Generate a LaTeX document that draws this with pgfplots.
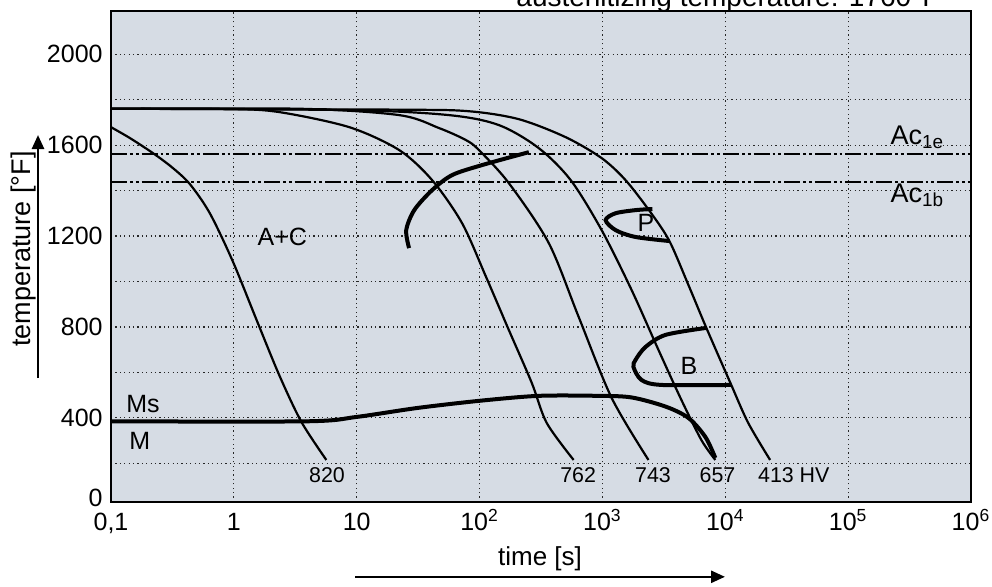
\documentclass[border=0pt]{standalone}
\usepackage{pgfplots}
\pgfplotsset{compat=1.18}
\usepackage{fontspec}
\setmainfont{Liberation Sans}
\usetikzlibrary{arrows.meta}
\definecolor{bgfill}{HTML}{D6DCE4}

\begin{document}
\begin{tikzpicture}[x=1pt,y=1pt]
\useasboundingbox (0,0) rectangle (496,293);
\begin{axis}[
    at={(55.5pt,42pt)}, anchor=south west,
    width=430pt, height=245.5pt, scale only axis,
    xmode=log, log basis x=10,
    xmin=0.1, xmax=1e6,
    ymin=30, ymax=2190,
    xtick={0.1,1,10,100,1000,10000,100000,1000000},
    xticklabels={{0,1},1,10,10\textsuperscript{2},10\textsuperscript{3},10\textsuperscript{4},10\textsuperscript{5},10\textsuperscript{6}},
    ytick={400,800,1200,1600,2000},
    yticklabels={400,800,1200,1600,2000},
    extra y ticks={48},
    extra y tick labels={0},
    extra y tick style={grid=none},
    minor ytick={200,600,1000,1400,1800},
    xmajorgrids, ymajorgrids, yminorgrids,
    grid style={black!85, line width=0.6pt, dash pattern=on 0.6pt off 1.6pt},
    minor grid style={black!85, line width=0.6pt, dash pattern=on 0.6pt off 1.6pt},
    major tick length=0pt, minor tick length=0pt,
    axis background/.style={fill=bgfill},
    axis line style={line width=1pt},
    tick label style={font=\fontsize{12.5}{14}\selectfont},
    xticklabel style={anchor=base, inner sep=0pt, yshift=-14pt},
    yticklabel style={inner sep=0pt, xshift=-4pt},
    every axis plot/.append style={black, line width=1.1pt},
]
% Ac lines
\addplot[line width=1.2pt, dash pattern=on 8pt off 1.5pt on 1.4pt off 1.5pt on 1.4pt off 1.5pt] coordinates {(0.1,1562) (1e6,1562)};
\addplot[line width=1.2pt, dash pattern=on 8pt off 1.5pt on 1.4pt off 1.5pt on 1.4pt off 1.5pt] coordinates {(0.1,1437) (1e6,1437)};
% cooling curves
\addplot[smooth] coordinates {(0.1,1679) (0.1426,1631) (0.2193,1565) (0.3126,1503) (0.4378,1429) (0.6364,1301) (0.9779,1090) (1.531,831) (2.355,585) (3.551,382) (5.66,215)};
\addplot[smooth] coordinates {(0.1,1760) (0.925,1759) (2.36,1745) (8.7,1679) (22.2,1578) (41.1,1446) (72,1257) (113,1020) (173,787) (266,554) (352,378) (583,215)};
\addplot[smooth] coordinates {(0.1,1760) (3.42,1760) (22.2,1732) (46.8,1675) (77.6,1622) (98.9,1578) (173,1433) (366,1169) (641,844) (1189,488) (2371,215)};
\addplot[smooth] coordinates {(0.1,1760) (8.71,1754) (56.5,1732) (144,1688) (303,1587) (552,1446) (986,1226) (1727,963) (2860,699) (4395,479) (6385,303) (8300,215)};
\addplot[smooth] coordinates {(0.1,1760) (22.2,1756) (82,1749) (209,1714) (502,1635) (985,1543) (1543,1446) (2460,1305) (3510,1178) (5010,985) (7015,796) (11190,545) (15370,378) (23170,215)};
% transformation lines
\addplot[smooth, line width=2pt] coordinates {(26.7,1147) (25.3,1226) (29.4,1314) (41.1,1402) (59.7,1468) (104.5,1512) (252,1569)};
\addplot[smooth, line width=2pt] coordinates {(2553,1319) (1857,1314) (1274,1300) (1062,1270) (1280,1226) (1857,1196) (3510,1178)};
\addplot[smooth, line width=2pt] coordinates {(7015,796) (3258,765) (2243,712) (1859,655) (1790,624) (2080,567) (3027,545) (11190,545)};
\addplot[smooth, line width=2pt] coordinates {(0.1,385) (3.9,385) (9.9,404) (30.5,443) (99,475) (303,497) (931,497) (1726,490) (3258,450) (5010,400) (6890,316) (8300,224)};
% labels
\begin{scope}[every node/.style={anchor=base west, inner sep=0pt, font=\fontsize{12.5}{14}\selectfont}]
\node[font=\fontsize{13.5}{15}\selectfont] at (rel axis cs:0.906,0.729) {Ac\textsubscript{1e}};
\node[font=\fontsize{13.5}{15}\selectfont] at (rel axis cs:0.906,0.611) {Ac\textsubscript{1b}};
\node at (rel axis cs:0.170,0.523) {A+C};
\node at (rel axis cs:0.0174,0.183) {Ms};
\node at (rel axis cs:0.0209,0.106) {M};
\node at (rel axis cs:0.612,0.550) {P};
\node at (rel axis cs:0.662,0.259) {B};
\node[font=\fontsize{10.7}{12}\selectfont] at (rel axis cs:0.230,0.0407) {820};
\node[font=\fontsize{10.7}{12}\selectfont] at (rel axis cs:0.522,0.0407) {762};
\node[font=\fontsize{10.7}{12}\selectfont] at (rel axis cs:0.609,0.0407) {743};
\node[font=\fontsize{10.7}{12}\selectfont] at (rel axis cs:0.684,0.0407) {657};
\node[font=\fontsize{10.7}{12}\selectfont] at (rel axis cs:0.752,0.0407) {413 HV};
\end{scope}
\end{axis}
% title (cut by the page edge)
\node[anchor=base, inner sep=0pt, font=\fontsize{14}{16}\selectfont] at (364,289.7) {austenitizing temperature: 1760°F};
% axis titles with arrows
\draw[line width=1.3pt, -{Triangle[length=7pt,width=6pt]}] (19,104) -- (19,225.5);
\node[rotate=90, inner sep=0pt, font=\fontsize{13.5}{15}\selectfont] at (12,168.5) {temperature [°F]};
\draw[line width=1.3pt, -{Triangle[length=7pt,width=6pt]}] (177.5,4.6) -- (362.5,4.6);
\node[anchor=base, inner sep=0pt, font=\fontsize{13}{15}\selectfont] at (270,10.5) {time [s]};
\end{tikzpicture}
\end{document}
